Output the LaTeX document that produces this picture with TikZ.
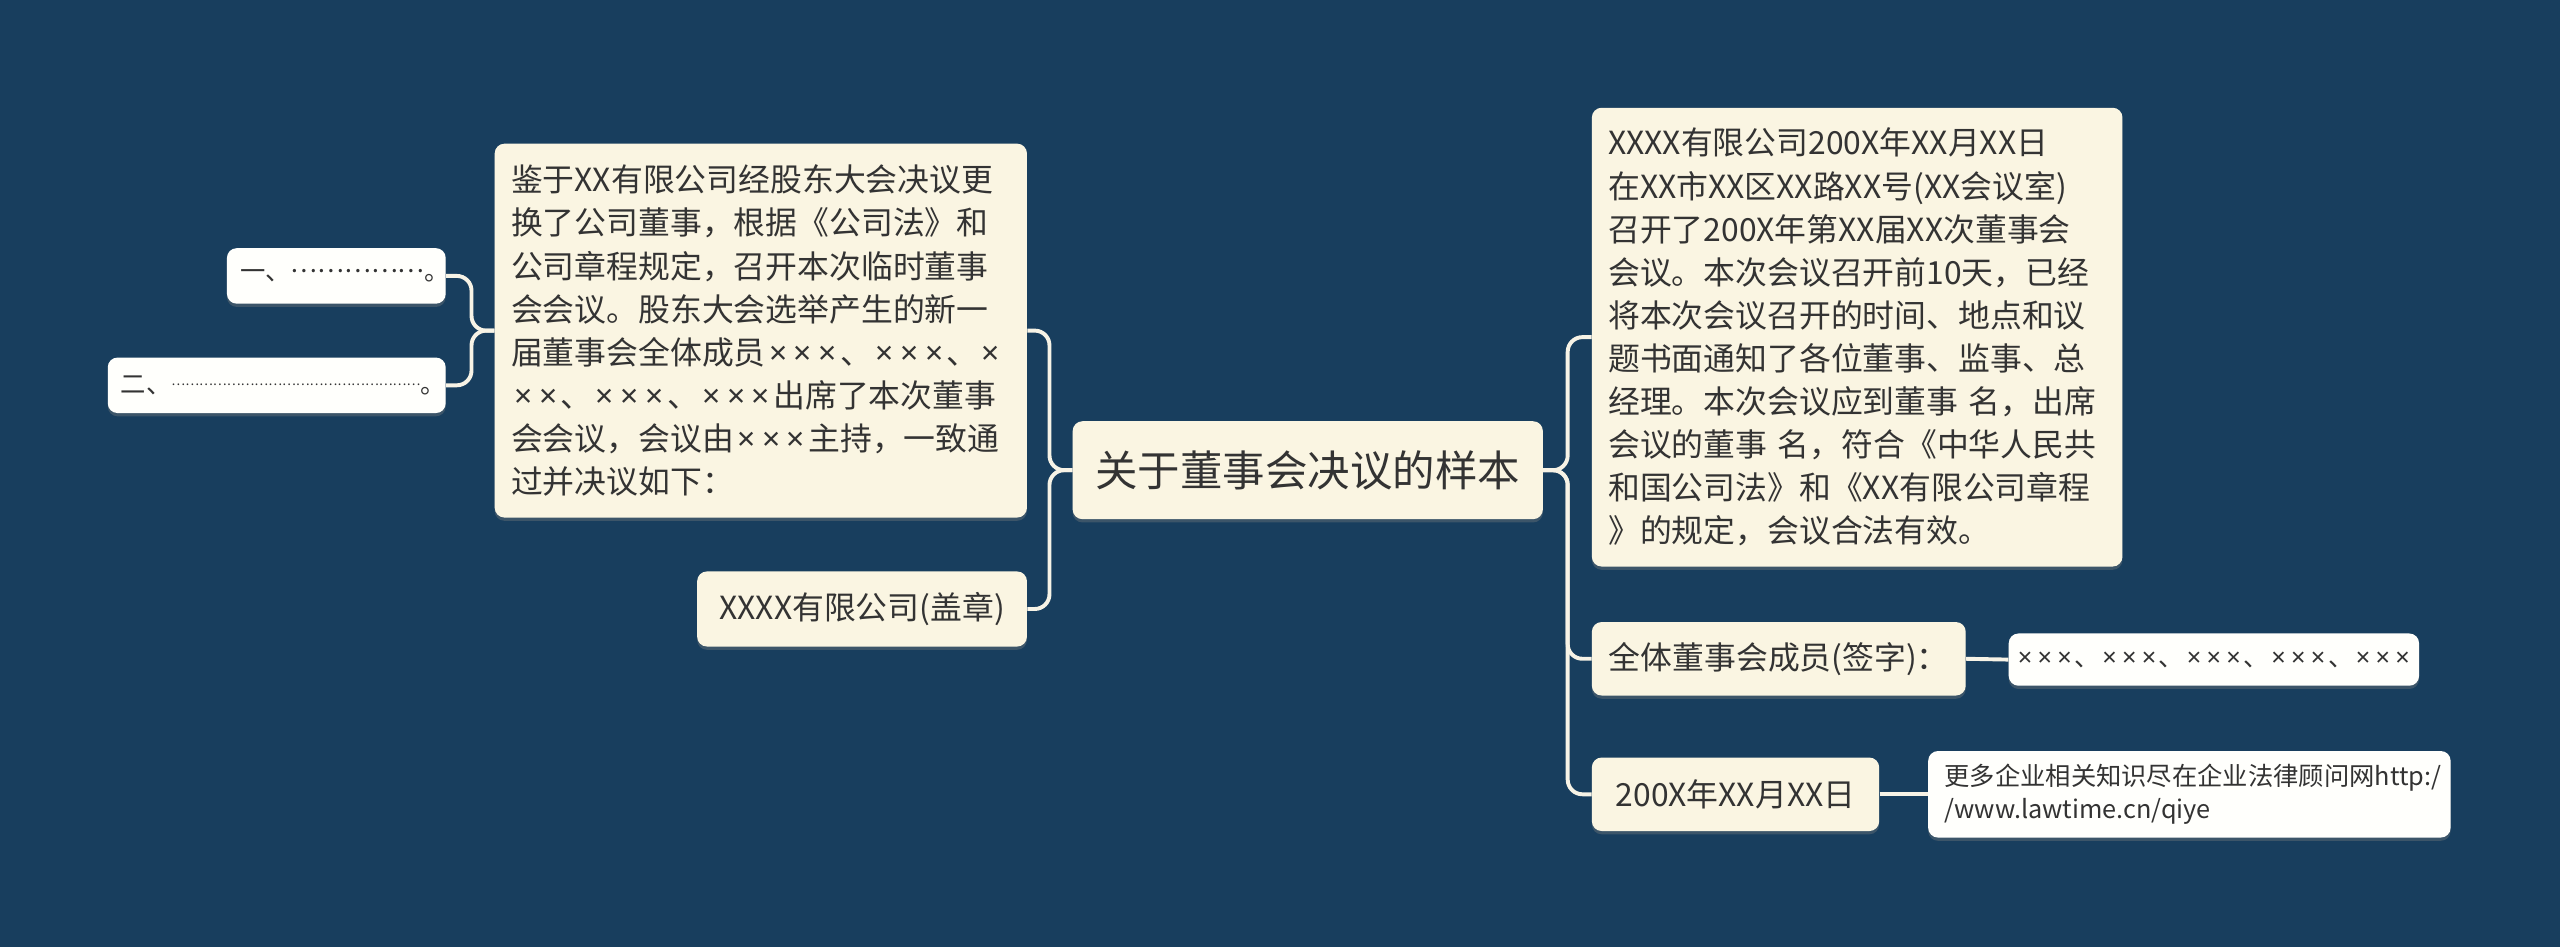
\documentclass[tikz,border=0pt]{standalone}
\usepackage{fontspec}
\setmainfont{Noto Sans CJK SC}
\newfontfamily\narrowx{Noto Sans}
\usepackage{tikz}
\usetikzlibrary{shadows}

\definecolor{bgnavy}{HTML}{183E5E}
\definecolor{cream}{HTML}{FAF5E2}
\definecolor{paper}{HTML}{FFFFFC}
\definecolor{ink}{HTML}{333333}
\definecolor{wire}{HTML}{F7F3E6}

% multiplication signs, set a little wider
\newcommand{\cx}{\makebox[0.78em]{\narrowx ×}}
\newcommand{\tcx}{\cx\cx\cx}
% raised run of #2 ellipses at size #1
\newcommand{\middots}[2]{\raisebox{0.32em}{\fontsize{#1}{#1}\selectfont\foreach \k in {1,...,#2}{…}}}

\tikzset{
  box/.style={rounded corners=6pt, inner xsep=10pt, inner ysep=0pt, text=ink,
    drop shadow={shadow xshift=0pt, shadow yshift=-2pt, opacity=0.35}},
  topic/.style={box, fill=cream, font=\fontsize{26}{30}\selectfont},
  subtopic/.style={box, fill=cream, font=\fontsize{19.5}{26.4}\selectfont, align=left},
  leaf/.style={box, fill=paper, font=\fontsize{15.5}{20}\selectfont, align=left},
  conn/.style={draw=wire, line width=2.4pt, rounded corners=9pt}
}

\begin{document}
\begin{tikzpicture}[x=1pt,y=-1pt]
    \fill[bgnavy] (0,0) rectangle (1568,580);
    \useasboundingbox (0,0) rectangle (1568,580);
    % root
    \node[topic, minimum width=288pt, minimum height=60pt] (root) at (801,288) {关于董事会决议的样本};
    % left side
    \node[subtopic, text width=306pt, minimum height=229pt] (resolve) at (466,202.5) {鉴于XX有限公司经股东大会决议更\\换了公司董事，根据《公司法》和\\公司章程规定，召开本次临时董事\\会会议。股东大会选举产生的新一\\届董事会全体成员\tcx{}、\tcx{}、\cx{}\\\cx\cx{}、\tcx{}、\tcx{}出席了本次董事\\会会议，会议由\tcx{}主持，一致通\\过并决议如下：};
    \node[subtopic, minimum width=202pt, minimum height=46pt] (seal) at (528,373) {XXXX有限公司(盖章)};
    \node[leaf, inner xsep=8pt, text width=118pt, minimum height=34pt] (itemone) at (206,169) {\mbox{一、\middots{15.5}{5}。}};
    \node[leaf, inner xsep=8pt, text width=191pt, minimum height=34pt] (itemtwo) at (169.5,236) {\mbox{二、\middots{8}{18}。}};
    % right side
    \node[subtopic, text width=305pt, minimum height=281pt] (meeting) at (1137.5,206.5) {XXXX有限公司200X年XX月XX日\\在XX市XX区XX路XX号(XX会议室)\\召开了200X年第XX届XX次董事会\\会议。本次会议召开前10天，已经\\将本次会议召开的时间、地点和议\\题书面通知了各位董事、监事、总\\经理。本次会议应到董事 名，出席\\会议的董事 名，符合《中华人民共\\和国公司法》和《XX有限公司章程\\》的规定，会议合法有效。};
    \node[subtopic, minimum width=229pt, minimum height=45pt] (sign) at (1089.5,403.5) {全体董事会成员(签字)：};
    \node[leaf, inner xsep=4pt, minimum width=246pt, minimum height=32pt] (names) at (1356,404) {\tcx{}、\tcx{}、\tcx{}、\tcx{}、\tcx{}};
    \node[subtopic, minimum width=176pt, minimum height=45pt] (date) at (1063,486.5) {200X年XX月XX日};
    \node[leaf, text width=300pt, minimum height=53pt] (site) at (1341,486.5) {更多企业相关知识尽在企业法律顾问网http:/\\/www.lawtime.cn/qiye};
    % connectors
    \draw[conn] (root.west) -- ++(-14,0) |- (resolve.east);
    \draw[conn] (root.west) -- ++(-14,0) |- (seal.east);
    \draw[conn] (resolve.west) -- ++(-14,0) |- (itemone.east);
    \draw[conn] (resolve.west) -- ++(-14,0) |- (itemtwo.east);
    \draw[conn] (root.east) -- ++(15,0) |- (meeting.west);
    \draw[conn] (root.east) -- ++(15,0) |- (sign.west);
    \draw[conn] (root.east) -- ++(15,0) |- (date.west);
    \draw[conn] (sign.east) -- (names.west);
    \draw[conn] (date.east) -- (site.west);
\end{tikzpicture}
\end{document}
